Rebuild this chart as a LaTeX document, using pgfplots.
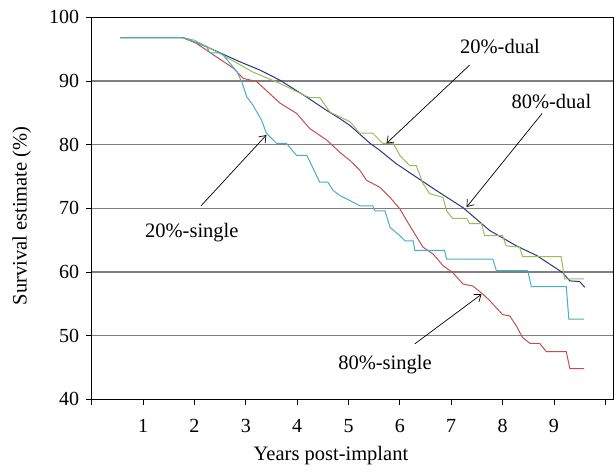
\documentclass[border=0pt]{standalone}
\usepackage{fontspec}
\setmainfont{Liberation Serif}
\usepackage{pgfplots}
\pgfplotsset{compat=1.18}
\usetikzlibrary{arrows.meta,calc}
\definecolor{cDualE}{HTML}{22377E}
\definecolor{cDualT}{HTML}{9BBB59}
\definecolor{cSingE}{HTML}{C0504D}
\definecolor{cSingT}{HTML}{4BACC6}
\definecolor{cGrid}{HTML}{7F7F7F}

\begin{document}
\begin{tikzpicture}
\fontsize{20.5bp}{24bp}\selectfont
\begin{axis}[scale only axis, width=521.3bp, height=382bp,
  xmin=0, xmax=10.15, ymin=40, ymax=100,
  xtick={0,...,10}, xticklabels={{},1,2,3,4,5,6,7,8,9,{}},
  ytick={40,50,...,100},
  tick align=outside, major tick length=5.5bp, xtick pos=bottom, ytick pos=left,
  ymajorgrids, grid style={cGrid, line width=1.1pt},
  axis line style={black, line width=1pt}, tick style={black, line width=0.8pt},
  /pgf/number format/assume math mode=true,
  tick label style={font=\fontsize{20bp}{24bp}\selectfont},
  xticklabel style={yshift=-7.5bp},
  label style={font=\fontsize{20.5bp}{24bp}\selectfont},
  xlabel={Years post-implant}, ylabel={Survival estimate (\%)},
  xlabel style={at={(axis description cs:0.459,0)}, anchor=center, yshift=-56bp},
  ylabel style={at={(axis description cs:0,0.48)}, anchor=center, yshift=70bp},
  every axis plot/.append style={line width=1pt, mark=none}]

% 80%-dual
\addplot[cDualE] coordinates {(0.56,96.8)(1.78,96.8)(2.23,95.4)(2.89,93.0)(3.28,91.7)(3.67,90.1)(4.18,87.5)(4.57,85.4)(4.83,84.1)(5.03,83.0)(5.42,80.2)(5.61,79.1)(5.93,77.0)(6.32,74.9)(6.71,72.8)(7.23,70.1)(7.75,66.5)(8.27,64.1)(8.66,62.6)(9.17,59.9)(9.31,58.6)(9.50,58.5)(9.60,57.6)};
% 20%-dual
\addplot[cDualT] coordinates {(0.56,96.8)(1.78,96.8)(2.0,96.4)(2.50,94.3)(3.14,91.4)(3.67,89.6)(4.18,87.6)(4.25,87.4)(4.44,87.4)(4.64,85.1)(5.03,83.6)(5.22,81.8)(5.47,81.8)(5.67,80.2)(5.87,80.2)(6.0,78.3)(6.19,76.7)(6.32,76.7)(6.45,73.9)(6.58,72.3)(6.84,71.7)(6.91,69.6)(7.03,68.4)(7.30,68.4)(7.36,67.6)(7.59,67.6)(7.65,65.7)(8.0,65.7)(8.07,64.1)(8.33,63.9)(8.39,62.4)(9.14,62.4)(9.21,58.9)(9.59,58.9)};
% 80%-single
\addplot[cSingE] coordinates {(0.56,96.8)(1.78,96.8)(2.04,95.9)(2.37,94.1)(2.76,92.0)(2.95,90.4)(3.21,89.9)(3.67,86.5)(3.99,84.9)(4.25,82.5)(4.58,80.7)(4.83,78.8)(5.03,77.5)(5.22,76.0)(5.35,74.4)(5.61,73.3)(5.81,71.7)(6.0,69.9)(6.19,67.3)(6.45,63.9)(6.65,62.8)(6.84,61.0)(7.03,59.9)(7.23,58.1)(7.42,57.8)(7.62,56.5)(7.75,55.5)(8.0,53.3)(8.14,53.1)(8.27,51.5)(8.39,49.7)(8.53,48.8)(8.72,48.8)(8.85,47.5)(9.24,47.5)(9.31,44.8)(9.59,44.8)};
% 20%-single
\addplot[cSingT] coordinates {(0.56,96.8)(1.78,96.8)(2.24,95.4)(2.30,94.4)(2.50,94.4)(2.56,94.1)(2.75,92.2)(2.83,91.4)(2.92,89.9)(3.02,87.5)(3.14,86.2)(3.31,83.8)(3.40,81.8)(3.60,80.2)(3.79,80.2)(3.99,78.3)(4.19,78.3)(4.44,74.1)(4.60,74.1)(4.70,72.8)(4.83,72.0)(5.03,71.2)(5.22,70.4)(5.47,70.4)(5.52,69.6)(5.71,69.6)(5.81,67.0)(6.0,65.7)(6.10,64.9)(6.26,64.9)(6.29,63.4)(6.87,63.4)(6.91,62.0)(7.81,62.0)(7.88,60.2)(8.49,60.2)(8.56,57.7)(9.24,57.7)(9.29,52.6)(9.59,52.6)};

\node at (axis cs:7.95,95.4) {20\%-dual};
\draw[-{Straight Barb[length=6bp,width=9bp]}, line width=0.7pt] (axis cs:7.36,92.5) -- (axis cs:5.74,80.2);
\node at (axis cs:8.95,86.7) {80\%-dual};
\draw[-{Straight Barb[length=6bp,width=9bp]}, line width=0.7pt] (axis cs:8.77,84.9) -- (axis cs:7.30,70.2);
\node at (axis cs:1.95,66.2) {20\%-single};
\draw[-{Straight Barb[length=6bp,width=9bp]}, line width=0.7pt] (axis cs:2.13,70.4) -- (axis cs:3.40,81.5);
\node at (axis cs:5.71,45.5) {80\%-single};
\draw[-{Straight Barb[length=6bp,width=9bp]}, line width=0.7pt] (axis cs:6.29,48.7) -- (axis cs:7.59,56.5);
\end{axis}
\path (current axis.south west) ++(-91.7bp,-68.7bp) coordinate (bbA);
\path (current axis.north east) ++(3bp,17.3bp) coordinate (bbB);
\path (bbA) rectangle (bbB);
\end{tikzpicture}
\end{document}
